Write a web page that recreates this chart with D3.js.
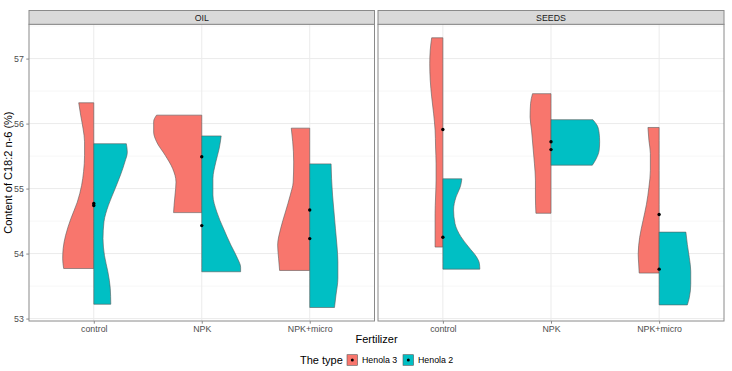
<!DOCTYPE html>
<html>
<head>
<meta charset="utf-8">
<script src="https://cdn.jsdelivr.net/npm/d3@7"></script>
<style>
  body { margin: 0; background: #fff; }
  svg { display: block; font-family: "Liberation Sans", Arial, sans-serif; }
</style>
</head>
<body>
<svg id="svg01" width="732" height="371"></svg>
<script>
// categories
const facets = ["OIL", "SEEDS"];
const fertilizers = ["control", "NPK", "NPK+micro"];
const types = ["Henola 3", "Henola 2"];
const typeColors = ["#F8766D", "#00BFC4"];
const yTicks = [53, 54, 55, 56, 57];

// violin outlines: [content %, relative half width]
// OIL
const oil_control_h3 = [[56.32,0.31],[56.13,0.27],[55.92,0.22],[55.72,0.19],[55.51,0.19],[55.26,0.21],[55.05,0.25],[54.79,0.34],[54.54,0.47],[54.28,0.58],[54.08,0.63],[53.92,0.64],[53.77,0.62]];
const oil_control_h2 = [[55.69,0.67],[55.56,0.69],[55.41,0.64],[55.21,0.55],[55.00,0.44],[54.74,0.30],[54.49,0.21],[54.23,0.19],[53.97,0.22],[53.72,0.29],[53.46,0.34],[53.22,0.35]];
const oil_npk_h3 = [[56.13,0.93],[56.03,0.99],[55.87,0.99],[55.72,0.93],[55.51,0.75],[55.31,0.60],[55.10,0.53],[54.90,0.55],[54.74,0.57],[54.63,0.58]];
const oil_npk_h2 = [[55.81,0.40],[55.62,0.36],[55.41,0.29],[55.15,0.23],[54.90,0.23],[54.64,0.31],[54.38,0.45],[54.13,0.60],[53.92,0.74],[53.79,0.80],[53.72,0.80]];
const oil_micro_h3 = [[55.93,0.38],[55.72,0.35],[55.41,0.33],[55.10,0.34],[54.90,0.40],[54.64,0.50],[54.38,0.60],[54.13,0.66],[53.92,0.64],[53.74,0.62]];
const oil_micro_h2 = [[55.38,0.44],[55.15,0.45],[54.90,0.47],[54.64,0.50],[54.38,0.53],[54.13,0.56],[53.87,0.58],[53.62,0.58],[53.36,0.54],[53.17,0.51]];
// SEEDS
const seeds_control_h3 = [[57.32,0.23],[57.13,0.26],[56.92,0.27],[56.67,0.26],[56.41,0.23],[56.15,0.19],[55.90,0.16],[55.64,0.15],[55.38,0.14],[55.13,0.14],[54.87,0.15],[54.62,0.16],[54.36,0.16],[54.10,0.16]];
const seeds_control_h2 = [[55.15,0.39],[55.03,0.36],[54.87,0.27],[54.67,0.22],[54.46,0.25],[54.26,0.37],[54.10,0.53],[53.95,0.69],[53.85,0.75],[53.76,0.76]];
const seeds_npk_h3 = [[56.46,0.38],[56.31,0.42],[56.10,0.43],[55.90,0.40],[55.64,0.37],[55.38,0.34],[55.13,0.32],[54.87,0.32],[54.62,0.31]];
const seeds_npk_h2 = [[56.06,0.86],[55.97,0.95],[55.85,0.99],[55.72,1.00],[55.59,0.99],[55.46,0.93],[55.36,0.85]];
const seeds_micro_h3 = [[55.94,0.23],[55.74,0.21],[55.54,0.18],[55.28,0.18],[55.02,0.21],[54.76,0.26],[54.51,0.33],[54.25,0.40],[53.99,0.43],[53.84,0.42],[53.70,0.41]];
const seeds_micro_h2 = [[54.33,0.55],[54.14,0.58],[53.94,0.62],[53.73,0.65],[53.53,0.65],[53.32,0.62],[53.21,0.58]];

// mean points, per fertilizer
const oilMeansH3 = [54.77, 55.49, 54.67];
const oilMeansH2 = [54.74, 54.43, 54.23];
const seedsMeansH3 = [55.91, 55.72, 54.60];
const seedsMeansH2 = [54.25, 55.60, 53.76];

const violins = {
  OIL: [[oil_control_h3, oil_control_h2], [oil_npk_h3, oil_npk_h2], [oil_micro_h3, oil_micro_h2]],
  SEEDS: [[seeds_control_h3, seeds_control_h2], [seeds_npk_h3, seeds_npk_h2], [seeds_micro_h3, seeds_micro_h2]]
};
const means = { OIL: [oilMeansH3, oilMeansH2], SEEDS: [seedsMeansH3, seedsMeansH2] };

const svg = d3.select("#svg01");
const panels = [{x0: 29, x1: 374.5}, {x0: 378, x1: 724}];
const panelTop = 24.3, panelBottom = 321, stripTop = 10.5;

// y range like ggplot: data extent + 5%
const allV = Object.values(violins).flat(3).map(d => d[0]);
const ext = d3.extent(allV);
const pad = (ext[1] - ext[0]) * 0.05;
const y = d3.scaleLinear().domain([ext[0] - pad, ext[1] + pad]).range([panelBottom, panelTop]);

facets.forEach((f, fi) => {
  const p = panels[fi];
  const x = d3.scalePoint().domain(fertilizers).range([p.x0, p.x1]).padding(0.6);
  const half = x.step() * 0.45;
  const g = svg.append("g");

  // grid
  const minor = [53.5, 54.5, 55.5, 56.5, 57.5];
  g.selectAll(".minor").data(minor).join("line")
    .attr("x1", p.x0).attr("x2", p.x1)
    .attr("y1", d => y(d)).attr("y2", d => y(d))
    .attr("stroke", "#f2f2f2").attr("stroke-width", 0.6);
  g.selectAll(".major").data(yTicks).join("line")
    .attr("x1", p.x0).attr("x2", p.x1)
    .attr("y1", d => y(d)).attr("y2", d => y(d))
    .attr("stroke", "#ebebeb").attr("stroke-width", 1);
  g.selectAll(".vmajor").data(fertilizers).join("line")
    .attr("x1", d => x(d)).attr("x2", d => x(d))
    .attr("y1", panelTop).attr("y2", panelBottom)
    .attr("stroke", "#ebebeb").attr("stroke-width", 1);

  // violins
  fertilizers.forEach((fert, ci) => {
    const cx = x(fert);
    violins[f][ci].forEach((prof, ti) => {
      const side = ti === 0 ? -1 : 1;
      const area = d3.area()
        .y(d => y(d[0]))
        .x0(cx)
        .x1(d => cx + side * d[1] * half)
        .curve(d3.curveMonotoneY);
      g.append("path")
        .attr("d", area(prof.slice().reverse()))
        .attr("fill", typeColors[ti])
        .attr("stroke", "#5a5a5a")
        .attr("stroke-width", 0.6);
    });
  });

  // mean points
  means[f].forEach(arr => {
    g.selectAll(null).data(arr).join("circle")
      .attr("cx", (d, i) => x(fertilizers[i]))
      .attr("cy", d => y(d))
      .attr("r", 1.7)
      .attr("fill", "#000");
  });

  // panel border
  g.append("rect")
    .attr("x", p.x0).attr("y", panelTop)
    .attr("width", p.x1 - p.x0).attr("height", panelBottom - panelTop)
    .attr("fill", "none").attr("stroke", "#8a8a8a").attr("stroke-width", 1);

  // strip
  g.append("rect")
    .attr("x", p.x0).attr("y", stripTop)
    .attr("width", p.x1 - p.x0).attr("height", panelTop - stripTop)
    .attr("fill", "#d9d9d9").attr("stroke", "#8a8a8a").attr("stroke-width", 1);
  g.append("text")
    .attr("x", (p.x0 + p.x1) / 2).attr("y", (stripTop + panelTop) / 2 + 3.2)
    .attr("text-anchor", "middle")
    .attr("font-size", 8.8).attr("fill", "#1a1a1a")
    .text(f);

  // x axis
  const xa = g.append("g")
    .attr("transform", `translate(0,${panelBottom})`)
    .call(d3.axisBottom(x).tickSize(2.7).tickPadding(2.5));
  xa.select(".domain").remove();
  xa.selectAll("line").attr("stroke", "#8a8a8a");
  xa.selectAll("text").attr("font-size", 8.8).attr("fill", "#4d4d4d")
    .attr("font-family", "Liberation Sans, Arial, sans-serif");

  // y axis (left panel only)
  if (fi === 0) {
    const ya = g.append("g")
      .attr("transform", `translate(${p.x0},0)`)
      .call(d3.axisLeft(y).tickValues(yTicks).tickFormat(d3.format("d")).tickSize(2.7).tickPadding(2.5));
    ya.select(".domain").remove();
    ya.selectAll("line").attr("stroke", "#8a8a8a");
    ya.selectAll("text").attr("font-size", 8.8).attr("fill", "#4d4d4d")
      .attr("font-family", "Liberation Sans, Arial, sans-serif");
  }
});

// axis titles
svg.append("text")
  .attr("x", (panels[0].x0 + panels[1].x1) / 2).attr("y", 343)
  .attr("text-anchor", "middle").attr("font-size", 11).attr("fill", "#000")
  .text("Fertilizer");
svg.append("text")
  .attr("transform", `translate(12,${(panelTop + panelBottom) / 2}) rotate(-90)`)
  .attr("text-anchor", "middle").attr("font-size", 11).attr("fill", "#000")
  .text("Content of C18:2 n-6 (%)");

// legend
const lg = svg.append("g").attr("transform", "translate(300,360)");
lg.append("text").attr("x", 0).attr("y", 4).attr("font-size", 11).text("The type");
const keyX = [47, 103];
types.forEach((t, i) => {
  const k = lg.append("g").attr("transform", `translate(${keyX[i]},0)`);
  k.append("rect").attr("x", 0).attr("y", -5.3).attr("width", 10.6).attr("height", 10.6)
    .attr("fill", typeColors[i]).attr("stroke", "#5a5a5a").attr("stroke-width", 0.6);
  k.append("circle").attr("cx", 5.3).attr("cy", 0).attr("r", 1.5).attr("fill", "#000");
  k.append("text").attr("x", 15).attr("y", 3.2).attr("font-size", 8.8).attr("fill", "#000").text(t);
});
</script>
</body>
</html>
